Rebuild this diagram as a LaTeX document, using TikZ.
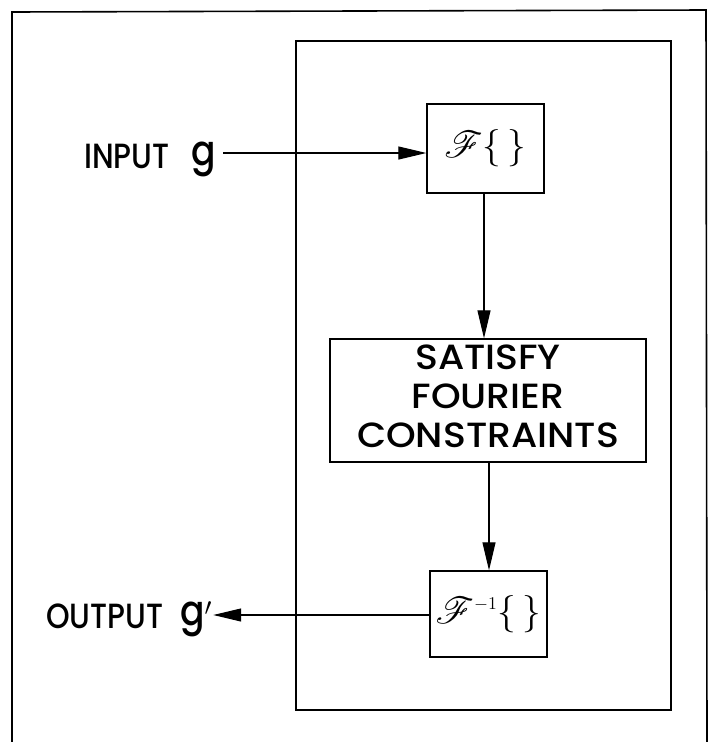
\documentclass[tikz,border=0pt]{standalone}
\usepackage{fontspec}
\setmainfont{Poppins}[UprightFont=* Medium]
\newfontfamily\lblfont{Poppins}[UprightFont=* Medium,FakeStretch=0.86]
\newfontfamily\boxfont{Poppins}[UprightFont=* Medium,FakeStretch=1.08]
\usepackage{mathrsfs}
\usetikzlibrary{arrows.meta}
\begin{document}
\begin{tikzpicture}[x=1pt,y=-1pt,
  frame/.style={draw,line width=1.6pt},
  blk/.style={draw,line width=1.3pt,inner sep=0pt},
  lbl/.style={inner sep=0pt,font=\lblfont\fontsize{35}{35}\selectfont},
  conn/.style={line width=1.1pt,-{Triangle[length=28pt,width=13pt]}}]
\useasboundingbox (0,0) rectangle (710,742);
\fill[white] (0,0) rectangle (710,742);
% outer frame (bottom open)
\draw[frame] (12,742) -- (12,12) -- (706,10) -- (707,742);
% inner frame
\draw[frame] (296,41) rectangle (671,710);
% blocks
\node[blk,minimum width=117pt,minimum height=89pt] (F) at (485.5,148.5) {\fontsize{24}{24}\selectfont\scalebox{1.5}{$\mathscr{F}\{\,\}$}};
\node[blk,minimum width=316pt,minimum height=123pt] (S) at (488,400.5) {\boxfont\fontsize{35}{39}\selectfont\begin{tabular}{@{}c@{}}SATISFY\\FOURIER\\CONSTRAINTS\end{tabular}};
\node[blk,minimum width=117pt,minimum height=86pt] (Fi) at (488.5,614) {\fontsize{24}{24}\selectfont\scalebox{1.5}{$\mathscr{F}^{\scriptscriptstyle -1}\{\,\}$}};
% labels
\node[lbl,anchor=base west] (in) at (84,168) {INPUT\hspace{22pt}\raisebox{3pt}{\fontsize{42}{42}\selectfont g}};
\node[lbl,anchor=base west] (out) at (46,628) {OUTPUT\hspace{17pt}\raisebox{3pt}{\fontsize{42}{42}\selectfont g$'$}};
% connectors
\draw[conn] ([xshift=7pt]in.east |- 0,153) -- (F.west |- 0,153);
\draw[conn] (F.south -| 484,0) -- (S.north -| 484,0);
\draw[conn] (S.south -| 489,0) -- (Fi.north -| 489,0);
\draw[conn] (Fi.west |- 0,615) -- ([xshift=1pt]out.east |- 0,615);
\end{tikzpicture}
\end{document}
